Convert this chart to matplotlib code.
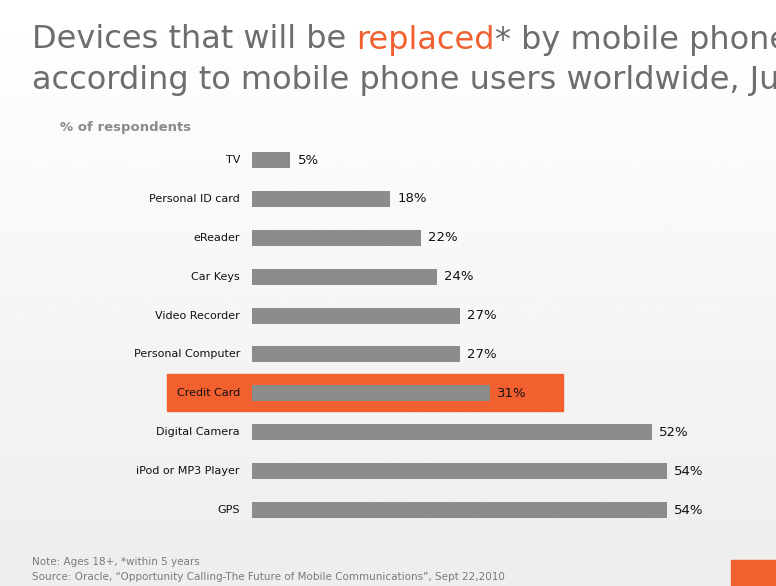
import matplotlib.pyplot as plt
import numpy as np
from matplotlib.patches import Rectangle

devices = ["TV", "Personal ID card", "eReader", "Car Keys", "Video Recorder",
           "Personal Computer", "Credit Card", "Digital Camera", "iPod or MP3 Player", "GPS"]
values = [5, 18, 22, 24, 27, 27, 31, 52, 54, 54]
highlight = "Credit Card"

W, H = 776, 586
fig = plt.figure(figsize=(W / 100, H / 100), dpi=100)

# soft background gradient (also holds the highlight box, behind the bars)
bg = fig.add_axes([0, 0, 1, 1])
grad = np.linspace(1.0, 0.93, 256).reshape(-1, 1)
bg.imshow(grad, aspect="auto", cmap="gray", vmin=0, vmax=1, extent=[0, 1, 0, 1])
bg.set_xlim(0, 1)
bg.set_ylim(0, 1)
bg.axis("off")

orange = "#F26030"
gray_text = "#6d6d6d"
tfont = ["Liberation Sans Narrow", "DejaVu Sans"]

# title
t = fig.text(32 / W, 1 - 40 / H, "Devices that will be ", fontsize=23, color=gray_text,
             va="center", family=tfont)
fig.canvas.draw()
r = fig.canvas.get_renderer()
bb = t.get_window_extent(r)
t2 = fig.text(bb.x1 / W, 1 - 40 / H, "replaced", fontsize=23, color=orange, va="center", family=tfont)
bb2 = t2.get_window_extent(r)
fig.text(bb2.x1 / W, 1 - 40 / H, "* by mobile phone users", fontsize=23, color=gray_text,
         va="center", family=tfont)
fig.text(32 / W, 1 - 80 / H, "according to mobile phone users worldwide, June 2010", fontsize=23,
         color=gray_text, va="center", family=tfont)
fig.text(60 / W, 1 - 128 / H, "% of respondents", fontsize=9.5, color="#8a8a8a",
         fontweight="bold", va="center", family=tfont)

# bar axes: x from 252px to right edge, rows from 160px to 510px
px_per = 7.69
top, bot = 140, 530
ax = fig.add_axes([252 / W, 1 - bot / H, (W - 252) / W, (bot - top) / H])
ax.set_xlim(0, (W - 252) / px_per)
step = (510 - 160) / 9
ax.set_ylim((bot - 160) / step, -(160 - top) / step)
ax.axis("off")
ax.patch.set_alpha(0)

y = np.arange(len(devices))
ax.barh(y, values, height=16 / step, color="#8c8c8c", zorder=3)

for i, (d, v) in enumerate(zip(devices, values)):
    yc = 1 - (160 + i * step) / H
    if d == highlight:
        bg.add_patch(Rectangle((167 / W, 1 - 411 / H), (563 - 167) / W, 37 / H,
                               color=orange, zorder=2))
    fig.text(240 / W, yc, d, ha="right", va="center", fontsize=8, color="#111111")
    ax.text(v + 7 / px_per, i, f"{v}%", va="center", ha="left", fontsize=9.5, color="#111111", zorder=4)

fig.text(32 / W, 1 - 562 / H, "Note: Ages 18+, *within 5 years", fontsize=7.5, color="#7a7a7a",
         va="center", family=tfont)
fig.text(32 / W, 1 - 577 / H, "Source: Oracle, \u201cOpportunity Calling-The Future of Mobile Communications\u201d, Sept 22,2010",
         fontsize=7.5, color="#7a7a7a", va="center", family=tfont)
bg.add_patch(Rectangle((731 / W, 0), 45 / W, 26 / H, color=orange, zorder=2))

fig.savefig("out.png", dpi=100)
